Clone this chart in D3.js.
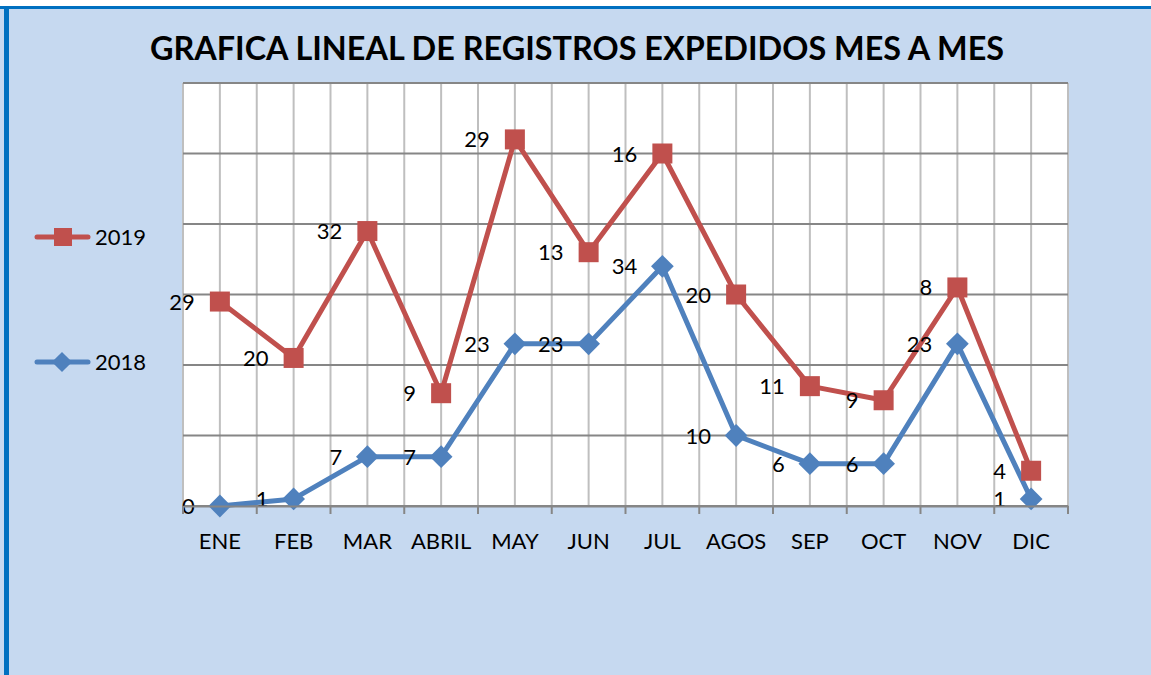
<!DOCTYPE html>
<html>
<head>
<meta charset="utf-8">
<script src="https://cdn.jsdelivr.net/npm/d3@7"></script>
<style>
  body { margin: 0; background: #fff; }
  svg { display: block; font-family: Lato, "Open Sans", sans-serif; }
</style>
</head>
<body>
<div id="chart"></div>
<script>
const meses = ["ENE", "FEB", "MAR", "ABRIL", "MAY", "JUN", "JUL", "AGOS", "SEP", "OCT", "NOV", "DIC"];
const val2018 = [0, 1, 7, 7, 23, 23, 34, 10, 6, 6, 23, 1];
const val2019 = [29, 20, 32, 9, 29, 13, 16, 20, 11, 9, 8, 4];
const yTicks = [0, 10, 20, 30, 40, 50, 60];

const width = 1151;
const height = 675;
const red = "#C0504D";
const blue = "#4F81BD";

const svg = d3.select("#chart").append("svg").attr("width", width).attr("height", height);

// fondo y borde
svg.append("rect").attr("x", 0).attr("y", 7).attr("width", width).attr("height", height - 7).attr("fill", "#C6D9F0");
svg.append("rect").attr("x", 0).attr("y", 6).attr("width", width).attr("height", 3).attr("fill", "#0070C0");
svg.append("rect").attr("x", 4).attr("y", 6).attr("width", 5).attr("height", height - 6).attr("fill", "#0070C0");

svg.append("text")
    .attr("x", 577).attr("y", 60)
    .attr("text-anchor", "middle")
    .attr("font-size", 32.4).attr("font-weight", "bold")
    .attr("fill", "#000")
    .text("GRAFICA LINEAL DE REGISTROS EXPEDIDOS MES A MES");

const pLeft = 183, pRight = 1068, pTop = 83, pBottom = 506;

const xBand = d3.scaleBand().domain(meses).range([pLeft, pRight]);
const xScale = (i) => xBand(meses[i]) + xBand.bandwidth() / 2;
const yScale = d3.scaleLinear().domain([0, 60]).range([pBottom, pTop]);

const plot = svg.append("g");
plot.append("rect").attr("x", pLeft).attr("y", pTop).attr("width", pRight - pLeft).attr("height", pBottom - pTop).attr("fill", "#fff");

// lineas verticales (centros y limites)
const vlines = [];
meses.forEach((m, i) => { vlines.push(xBand(m)); vlines.push(xScale(i)); });
vlines.push(pRight);
plot.selectAll(".vline").data(vlines).enter().append("line")
    .attr("x1", (d) => d).attr("x2", (d) => d)
    .attr("y1", pTop).attr("y2", pBottom)
    .attr("stroke", "#BFBFBF").attr("stroke-width", 2);

plot.selectAll(".hline").data(yTicks).enter().append("line")
    .attr("x1", pLeft).attr("x2", pRight)
    .attr("y1", (d) => yScale(d)).attr("y2", (d) => yScale(d))
    .attr("stroke", "#868686").attr("stroke-width", 2);

// eje x
const xAxis = d3.axisBottom(xBand).tickSize(0).tickPadding(27);
const gx = svg.append("g").attr("transform", `translate(0,${pBottom})`).call(xAxis);
gx.select(".domain").attr("stroke", "#868686").attr("stroke-width", 2);
gx.selectAll("text").attr("font-size", 22).attr("fill", "#000").attr("font-family", "Lato, sans-serif");
const bounds = meses.map((m) => xBand(m)).concat([pRight]);
gx.selectAll(".bt").data(bounds).enter().append("line")
    .attr("x1", (d) => d).attr("x2", (d) => d).attr("y1", 0).attr("y2", 8)
    .attr("stroke", "#868686").attr("stroke-width", 2);

// series apiladas
const stacked2019 = val2019.map((v, i) => v + val2018[i]);
const line = d3.line().x((d, i) => xScale(i)).y((d) => yScale(d));

plot.append("path").datum(val2018).attr("d", line).attr("fill", "none").attr("stroke", blue).attr("stroke-width", 5).attr("stroke-linejoin", "round");
plot.append("path").datum(stacked2019).attr("d", line).attr("fill", "none").attr("stroke", red).attr("stroke-width", 5).attr("stroke-linejoin", "round");

const diamond = d3.symbol().type(d3.symbolDiamond2).size(330);
plot.selectAll(".m18").data(val2018).enter().append("path")
    .attr("d", diamond)
    .attr("transform", (d, i) => `translate(${xScale(i)},${yScale(d)})`)
    .attr("fill", blue);
plot.selectAll(".m19").data(stacked2019).enter().append("rect")
    .attr("x", (d, i) => xScale(i) - 10).attr("y", (d) => yScale(d) - 10)
    .attr("width", 20).attr("height", 20)
    .attr("fill", red);

// etiquetas
plot.selectAll(".l18").data(val2018).enter().append("text")
    .attr("x", (d, i) => xScale(i) - 25).attr("y", (d) => yScale(d) + 8)
    .attr("text-anchor", "end").attr("font-size", 22).attr("fill", "#000")
    .text((d) => d);
plot.selectAll(".l19").data(val2019).enter().append("text")
    .attr("x", (d, i) => xScale(i) - 25).attr("y", (d, i) => yScale(stacked2019[i]) + 8)
    .attr("text-anchor", "end").attr("font-size", 22).attr("fill", "#000")
    .text((d) => d);

// leyenda
const series = [{ name: "2019", color: red, y: 237 }, { name: "2018", color: blue, y: 362 }];
const leg = svg.selectAll(".leg").data(series).enter().append("g");
leg.append("line").attr("x1", 37).attr("x2", 88).attr("y1", (d) => d.y).attr("y2", (d) => d.y)
    .attr("stroke", (d) => d.color).attr("stroke-width", 5).attr("stroke-linecap", "round");
leg.filter((d) => d.name === "2019").append("rect")
    .attr("x", 54).attr("y", (d) => d.y - 9).attr("width", 18).attr("height", 18).attr("fill", red);
leg.filter((d) => d.name === "2018").append("path")
    .attr("d", d3.symbol().type(d3.symbolDiamond2).size(260))
    .attr("transform", (d) => `translate(62,${d.y})`).attr("fill", blue);
leg.append("text").attr("x", 95).attr("y", (d) => d.y + 8)
    .attr("font-size", 22).attr("fill", "#000").text((d) => d.name);
</script>
</body>
</html>
